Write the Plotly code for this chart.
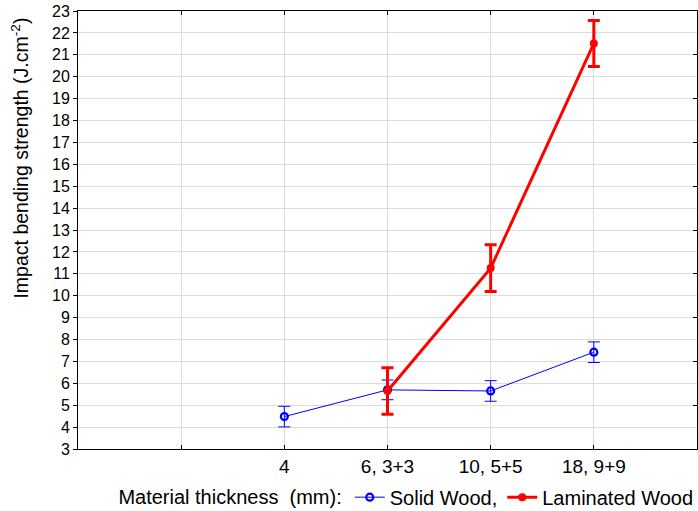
import plotly.graph_objects as go

categories = ["4", "6, 3+3", "10, 5+5", "18, 9+9"]
cat_pos = [2, 3, 4, 5]

solid_vals = [4.48, 5.70, 5.65, 7.42]
solid_err = [0.47, 0.45, 0.47, 0.47]

lam_cats = ["6, 3+3", "10, 5+5", "18, 9+9"]
lam_vals = [5.65, 11.26, 21.52]
lam_err = [1.06, 1.07, 1.05]

pos = dict(zip(categories, cat_pos))

fig = go.Figure()
fig.add_trace(go.Scatter(
    x=[pos[c] for c in categories], y=solid_vals, name="Solid Wood,",
    mode="lines+markers",
    line=dict(color="#0000ff", width=1),
    marker=dict(symbol="circle-open", size=7, color="#0000ff", line=dict(width=2.2)),
    error_y=dict(type="data", array=solid_err, color="#0000ff", thickness=1, width=6),
))
fig.add_trace(go.Scatter(
    x=[pos[c] for c in lam_cats], y=lam_vals, name="Laminated Wood",
    mode="lines+markers",
    line=dict(color="#ff0000", width=3),
    marker=dict(symbol="circle", size=8, color="#ff0000"),
    error_y=dict(type="data", array=lam_err, color="#ff0000", thickness=3, width=6),
))
# helper trace for right axis
fig.add_trace(go.Scatter(x=[0], y=[3], yaxis="y2", mode="markers",
                         marker=dict(opacity=0), showlegend=False, hoverinfo="skip"))

font = "Liberation Sans, Arial, sans-serif"
fig.update_layout(
    width=698, height=511,
    margin=dict(l=78, r=1, t=11, b=62, autoexpand=False),
    paper_bgcolor="white", plot_bgcolor="white",
    font=dict(family=font, size=16, color="black"),
    showlegend=True,
    legend=dict(orientation="h", x=0.062, xanchor="left", y=-0.11, yanchor="middle",
                font=dict(size=20), itemwidth=30, tracegroupgap=0,
                title=dict(text="Material thickness  (mm):", side="left", font=dict(size=20)),
                bgcolor="rgba(0,0,0,0)"),
    xaxis=dict(range=[0, 6], tickmode="array", tickvals=[1] + cat_pos,
               ticktext=[""] + categories,
               showgrid=True, gridcolor="#dcdcdc", gridwidth=1,
               showline=True, linecolor="black", linewidth=1, mirror="ticks",
               ticks="inside", ticklen=4, tickcolor="black", automargin=False,
               zeroline=False, tickfont=dict(size=19)),
    yaxis=dict(range=[3, 23], dtick=1, tick0=3,
               showgrid=True, gridcolor="#dcdcdc", gridwidth=1,
               showline=True, linecolor="black", linewidth=1, mirror=True,
               ticks="outside", ticklen=4, tickcolor="black", automargin=False,
               zeroline=False, tickfont=dict(size=16)),
    yaxis2=dict(range=[3, 23], dtick=2, tick0=1, overlaying="y", side="right",
                showgrid=False, showticklabels=False, ticks="inside", ticklen=4,
                tickcolor="black", showline=False, zeroline=False, automargin=False),
    annotations=[dict(text="Impact bending strength (J.cm<sup>-2</sup>)",
                      textangle=-90, xref="paper", yref="paper",
                      x=-0.094, y=0.665, xanchor="center", yanchor="middle",
                      showarrow=False, font=dict(size=19.5))],
)

fig.write_html("out.html", config={"displayModeBar": False},
               post_script="document.body.style.margin='0';document.body.style.overflow='hidden';")
